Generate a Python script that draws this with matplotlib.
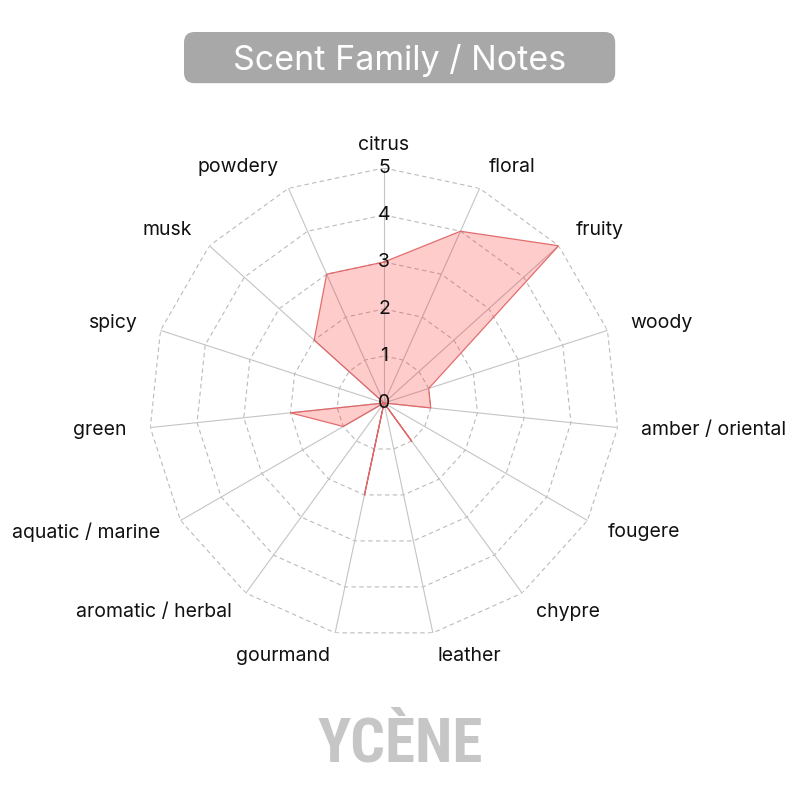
import numpy as np
import matplotlib
matplotlib.use("Agg")
import matplotlib.pyplot as plt
from matplotlib.patches import FancyBboxPatch

# scent families, clockwise from the top
categories = ["citrus", "floral", "fruity", "woody", "amber / oriental",
              "fougere", "chypre", "leather", "gourmand", "aromatic / herbal",
              "aquatic / marine", "green", "spicy", "musk", "powdery"]
values = [3, 4, 5, 1, 1, 0, 1, 0, 2, 0, 1, 2, 0, 2, 3]
levels = [0, 1, 2, 3, 4, 5]

plt.rcParams['font.family'] = ['Inter', 'DejaVu Sans']

n = len(categories)
angles = np.linspace(0, 2 * np.pi, n, endpoint=False)

fig = plt.figure(figsize=(8, 8), dpi=100)
ax = fig.add_axes([0.18625, 0.2025, 0.5875, 0.5875], projection='polar')
ax.set_theta_zero_location('N')
ax.set_theta_direction(-1)
ax.set_ylim(0, 5)
ax.grid(False)
ax.spines['polar'].set_visible(False)
ax.set_xticks([])
ax.set_yticks([])

# polygon grid rings (dashed) and spokes (solid)
ring_angles = np.append(angles, angles[0])
for lv in levels[1:]:
    ax.plot(ring_angles, [lv] * len(ring_angles), color='#bbbbbb',
            lw=0.8, ls=(0, (4, 3)), zorder=1)
for a in angles:
    ax.plot([a, a], [0, levels[-1]], color='#c4c4c4', lw=0.8, zorder=1)

# data polygon
vals = np.append(values, values[0])
ax.fill(ring_angles, vals, color='#ff1a1a', alpha=0.22, lw=0, zorder=2)
ax.plot(ring_angles, vals, color='#e06060', lw=0.9, alpha=0.9, zorder=3)

# radial value labels along the citrus axis
for lv in levels:
    ax.text(0, lv, str(lv), ha='center', va='center', fontsize=14,
            color='#111111', zorder=4)

# category labels
for a, name in zip(angles, categories):
    s = np.sin(a)
    if abs(s) < 0.05:
        ha = 'center'
    elif s > 0:
        ha = 'left'
    else:
        ha = 'right'
    ax.text(a, 5.5, name, ha=ha, va='center', fontsize=14, color='#111111')

# title box
box = FancyBboxPatch((0.23, 0.896), 0.539, 0.064,
                     boxstyle="round,pad=0,rounding_size=0.013",
                     transform=fig.transFigure, facecolor='#a8a8a8',
                     edgecolor='none')
fig.patches.append(box)
fig.text(0.5, 0.9245, "Scent Family / Notes", ha='center', va='center',
         fontsize=24.5, color='white')

# watermark
fig.text(0.5, 0.069, "YCÈNE", ha='center', va='center', fontsize=44,
         fontweight='bold', fontstretch='condensed', color='#c6c6c6',
         family=['Roboto Condensed', 'Open Sans Condensed',
                 'Liberation Sans Narrow', 'DejaVu Sans'])

fig.savefig("out.png", dpi=100, facecolor='white')
